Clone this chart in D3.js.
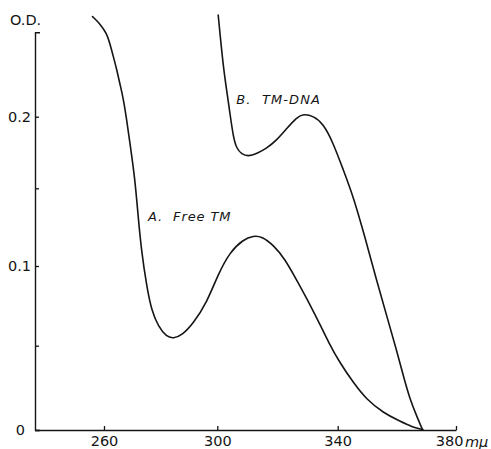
<!DOCTYPE html>
<html><head><meta charset="utf-8">
<script src="https://cdn.jsdelivr.net/npm/d3@7"></script>
<style>body{margin:0;background:#fff}svg{display:block}</style>
</head><body>
<svg id="chart" width="491" height="449"></svg>
<script>
// ---- data (wavelength in mμ, optical density) ----
const freeTM_wl = [256.0,258.6,261.0,262.1,263.3,264.5,265.6,266.8,268.0,269.2,270.9,272.0,273.2,275.1,276.8,279.2,282.1,284.5,287.5,291.5,296.3,300.3,304.2,308.6,312.0,314.8,318.6,322.5,326.4,330.9,334.2,337.0,340.5,345.3,349.8,355.4,361.0,365.5,368.4,368.8];
const freeTM_od = [0.270,0.265,0.258,0.251,0.242,0.233,0.223,0.213,0.198,0.181,0.157,0.133,0.110,0.087,0.072,0.062,0.0555,0.0545,0.0565,0.064,0.077,0.095,0.109,0.117,0.1195,0.119,0.1135,0.1045,0.091,0.0755,0.063,0.052,0.0405,0.028,0.018,0.0102,0.0052,0.0016,0.0004,0];
const tmDNA_wl = [300.3,300.9,302.0,303.1,304.2,305.3,306.4,308.1,310.3,313.1,316.4,319.7,323.1,326.4,328.6,331.9,335.2,338.5,341.9,345.3,349.2,353.2,356.6,359.9,362.2,364.4,366.7,368.4,368.8];
const tmDNA_od = [0.271,0.258,0.235,0.2186,0.2024,0.1860,0.1778,0.1738,0.1722,0.1742,0.1779,0.1835,0.1918,0.1995,0.2020,0.2005,0.1952,0.1817,0.1628,0.1446,0.1187,0.0906,0.0686,0.0474,0.0320,0.0184,0.0083,0.0012,0];
const xTicks = [260,300,340,380];
const xTickLabels = ["260","300","340","380"];
const yTicks = [0,0.05,0.1,0.15,0.2];
const yTickLabels = ["0","","0.1","","0.2"];
const xUnit = "mμ";
const yTitle = "O.D.";
const seriesLabels = ["A.  Free TM","B.  TM-DNA"];
const xDomainEnds = [236,380];
const yDomainEnds = [0,0.259];

// ---- layout (picture is slightly distorted, so piecewise-linear scales) ----
const svg = d3.select("#chart");
const x = d3.scaleLinear()
  .domain([xDomainEnds[0],260,300,340,xDomainEnds[1]])
  .range([35,104,217.3,337.7,456]);
const y = d3.scaleLinear()
  .domain([yDomainEnds[0],0.05,0.1,0.15,0.2,yDomainEnds[1]])
  .range([430,345.7,266,188.3,116.7,32.3]);

const font = "DejaVu Sans, Verdana, sans-serif";
const ink = "#151515";

// x axis
const xAxis = d3.axisBottom(x).tickValues(xTicks)
  .tickFormat((d,i)=>xTickLabels[i]).tickSize(-4).tickSizeOuter(0).tickPadding(6);
const gx = svg.append("g").attr("transform","translate(0,430)").call(xAxis);
gx.select(".domain").attr("stroke",ink).attr("stroke-width",1.4);
gx.selectAll(".tick line").attr("stroke",ink).attr("stroke-width",1.3);
gx.selectAll(".tick text").attr("font-family",font).attr("font-size",14.5).attr("fill",ink);
// last label is shifted left and followed by the unit
gx.selectAll(".tick text").filter((d,i)=>i===xTicks.length-1)
  .attr("text-anchor","end").attr("x",7);
svg.append("text").attr("x",465).attr("y",447)
  .attr("font-family",font).attr("font-size",14.5).attr("font-style","italic")
  .attr("fill",ink).text(xUnit);

// y axis
const yAxis = d3.axisLeft(y).tickValues(yTicks)
  .tickFormat((d,i)=>yTickLabels[i]).tickSize(-4).tickSizeOuter(-5).tickPadding(5);
const gy = svg.append("g").attr("transform","translate(35,0)").call(yAxis);
gy.select(".domain").attr("stroke",ink).attr("stroke-width",1.4);
gy.selectAll(".tick line").attr("stroke",ink).attr("stroke-width",1.3);
gy.selectAll(".tick text").attr("font-family",font).attr("font-size",14.5).attr("fill",ink)
  .attr("x",(d)=>d===0?-10:-4);
svg.append("text").attr("x",10).attr("y",25)
  .attr("font-family",font).attr("font-size",14.5).attr("fill",ink).text(yTitle);

// curves
const line = d3.line().x(d=>x(d[0])).y(d=>y(d[1])).curve(d3.curveBasis);
const seriesA = freeTM_wl.map((w,i)=>[w,freeTM_od[i]]);
const seriesB = tmDNA_wl.map((w,i)=>[w,tmDNA_od[i]]);
[seriesA,seriesB].forEach(s=>{
  svg.append("path").datum(s).attr("d",line)
    .attr("fill","none").attr("stroke",ink).attr("stroke-width",1.6)
    .attr("stroke-linejoin","round").attr("stroke-linecap","round");
});

// series labels
svg.append("text").attr("x",x(275.5)).attr("y",y(0.1288))
  .attr("font-family",font).attr("font-size",13).attr("font-style","italic")
  .attr("letter-spacing",0.9).attr("fill",ink)
  .style("white-space","pre").text(seriesLabels[0]);
svg.append("text").attr("x",x(306.3)).attr("y",y(0.2089))
  .attr("font-family",font).attr("font-size",13).attr("font-style","italic")
  .attr("letter-spacing",1.1).attr("fill",ink)
  .style("white-space","pre").text(seriesLabels[1]);
</script>
</body></html>
